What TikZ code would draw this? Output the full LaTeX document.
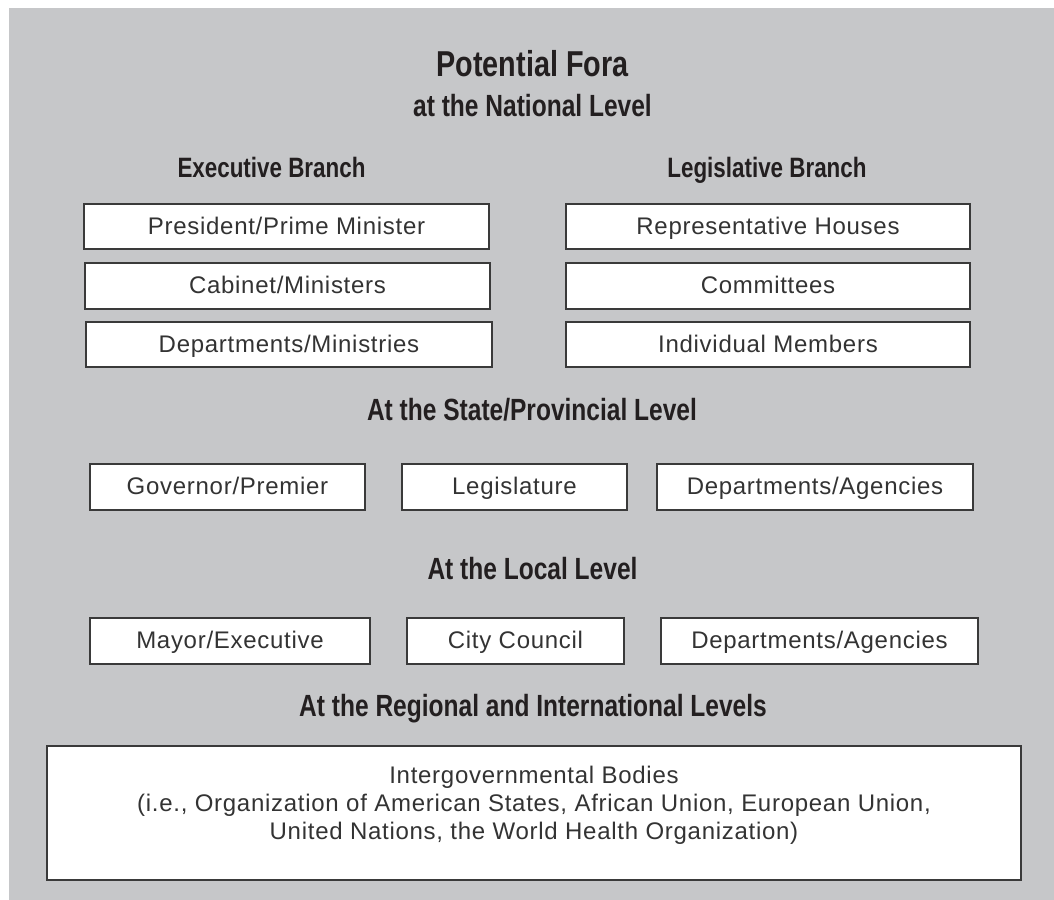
\documentclass[tikz,border=0pt]{standalone}
\usepackage{fontspec}
\setmainfont{Liberation Sans}
\newfontfamily\boxfont{Liberation Sans}[LetterSpace=3]
\newfontfamily\headfont{Liberation Sans}[FakeStretch=0.8]
\definecolor{bggray}{HTML}{C6C7C9}
\definecolor{ink}{HTML}{231F20}
\definecolor{boxink}{HTML}{333333}
\definecolor{edge}{HTML}{3A3A3A}
\tikzset{
  px/.style={x=0.75pt,y=-0.75pt},
  fbox/.style={draw=edge,fill=white,line width=1.1pt,rectangle,inner sep=0pt,
    font=\boxfont\fontsize{18}{21}\selectfont,text=boxink,
    text height=12.9pt,text depth=1.5pt},
  bw/.style={minimum width=#1*0.75pt},
  bh/.style={minimum height=#1*0.75pt},
  title/.style={font=\headfont\bfseries\fontsize{27}{32}\selectfont,text=ink,anchor=base,inner sep=0pt},
  section/.style={font=\headfont\bfseries\fontsize{23}{28}\selectfont,text=ink,anchor=base,inner sep=0pt},
  branch/.style={font=\headfont\bfseries\fontsize{21}{25}\selectfont,text=ink,anchor=base,inner sep=0pt},
  bodytext/.style={font=\boxfont\fontsize{18}{21}\selectfont,text=boxink,align=center,inner sep=0pt}
}
\begin{document}
\begin{tikzpicture}[px]
\useasboundingbox (0,0) rectangle (1054,900);
\fill[bggray] (9,8) rectangle (1054,900);
% headings
\node[title] (t1) at (532.5,76.7) {Potential Fora};
\node[section] (t2) at (532.5,116.7) {at the National Level};
\node[branch] (exec) at (271.5,177) {Executive Branch};
\node[branch] (legb) at (767,177) {Legislative Branch};
% national boxes
\node[fbox,bw=405,bh=45] (pres) at (286.5,226.5) {President/Prime Minister};
\node[fbox,bw=405,bh=46] (cab) at (287.5,286) {Cabinet/Ministers};
\node[fbox,bw=406,bh=45] (dept) at (289,344.5) {Departments/Ministries};
\node[fbox,bw=404,bh=45] (rep) at (768,226.5) {Representative Houses};
\node[fbox,bw=404,bh=46] (comm) at (768,286) {Committees};
\node[fbox,bw=404,bh=45] (indiv) at (768,344.5) {Individual Members};
% state
\node[section] (state) at (532,420) {At the State/Provincial Level};
\node[fbox,bw=275,bh=46] (gov) at (227.5,487) {Governor/Premier};
\node[fbox,bw=225,bh=46] (legis) at (514.5,487) {Legislature};
\node[fbox,bw=316,bh=46] (sdept) at (815,487) {Departments/Agencies};
% local
\node[section] (local) at (532.5,579) {At the Local Level};
\node[fbox,bw=280,bh=46] (mayor) at (230,641) {Mayor/Executive};
\node[fbox,bw=217,bh=46] (city) at (515.5,641) {City Council};
\node[fbox,bw=317,bh=46] (ldept) at (819.5,641) {Departments/Agencies};
% regional
\node[section] (regional) at (533,716) {At the Regional and International Levels};
\node[fbox,bw=974,bh=134] (intergov) at (534,813) {};
\node[bodytext] (intergovtext) at (534,805) {Intergovernmental Bodies\\(i.e., Organization of American States, African Union, European Union,\\United Nations, the World Health Organization)};
\end{tikzpicture}
\end{document}
